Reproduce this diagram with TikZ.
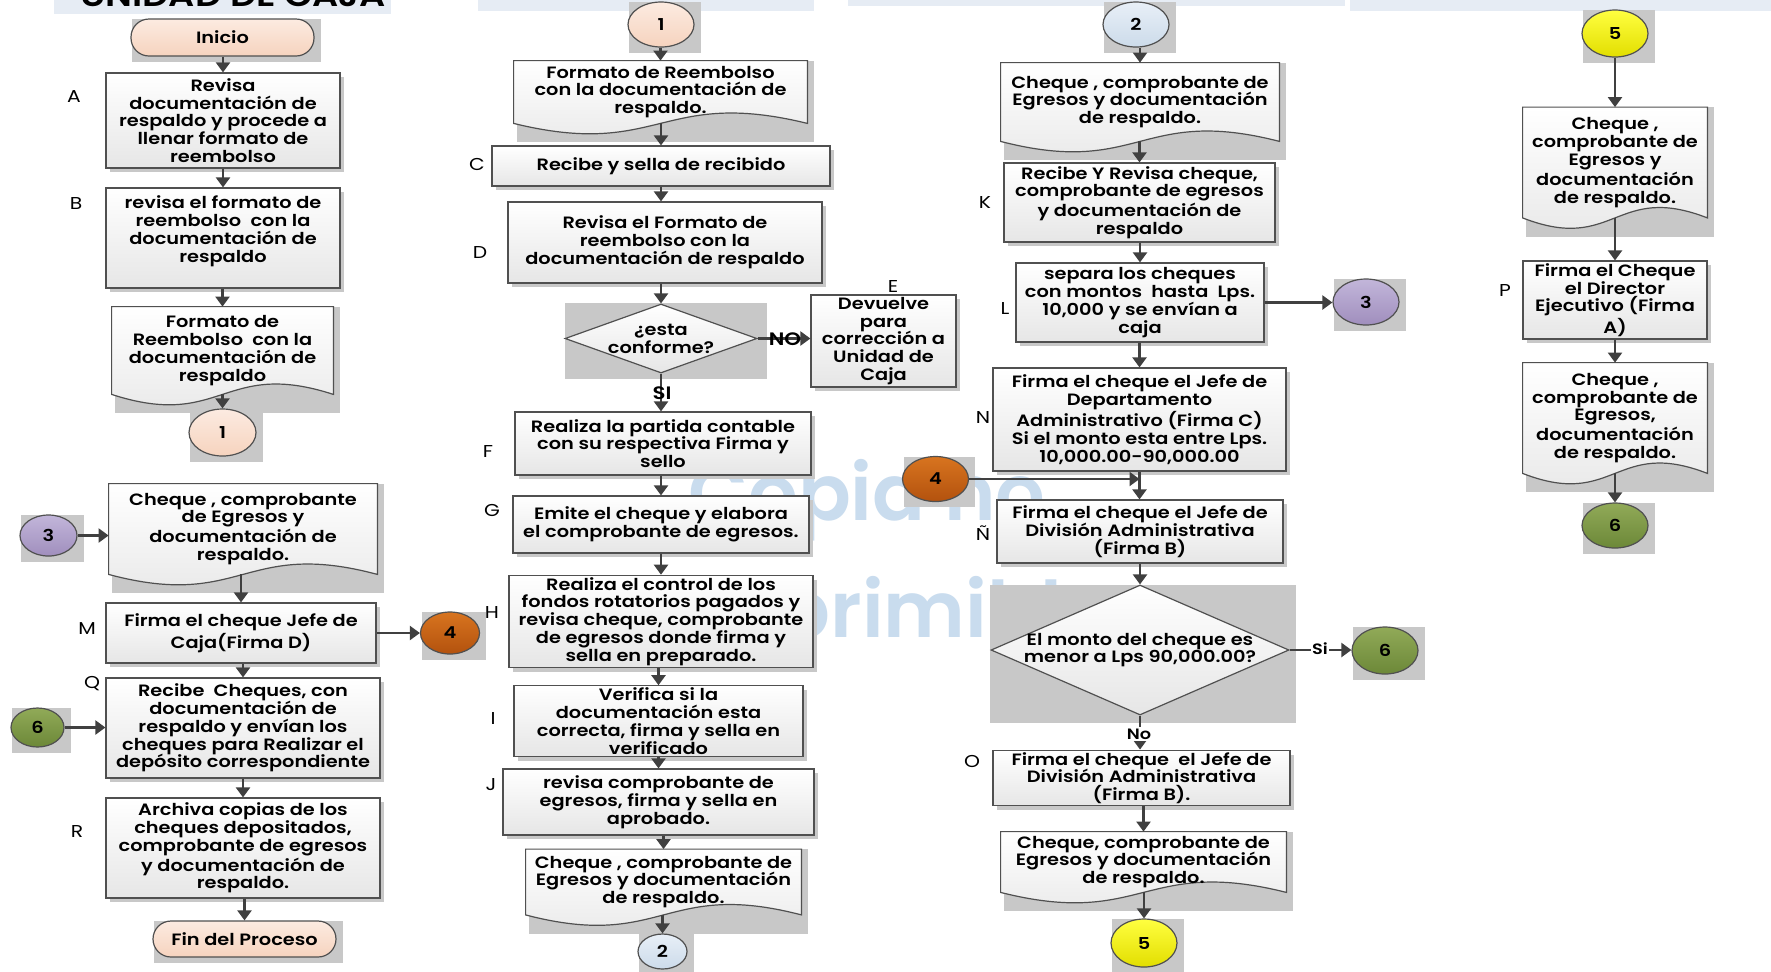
\documentclass[tikz,border=0pt]{standalone}
\usepackage{fontspec}
\setmainfont{Poppins}[FakeStretch=1.18, BoldFont={* SemiBold}]
\newfontfamily\wmfont{Poppins}[BoldFont={* SemiBold}]
\usetikzlibrary{shapes.geometric,shadows,arrows.meta,calc}
\definecolor{linec}{HTML}{505050}
\definecolor{arrc}{HTML}{404040}
\definecolor{boxbot}{HTML}{E6E6E6}
\definecolor{shadc}{HTML}{C8C8C8}
\definecolor{barc}{HTML}{E6ECF4}
\definecolor{wmc}{HTML}{C9DCEE}
\definecolor{peachT}{HTML}{FCEBE1}
\definecolor{peachB}{HTML}{F6D3BE}
\definecolor{blueT}{HTML}{E8EFF7}
\definecolor{blueB}{HTML}{CCDBEA}
\definecolor{purT}{HTML}{C2B6DA}
\definecolor{purB}{HTML}{A08EBD}
\definecolor{orT}{HTML}{D8741F}
\definecolor{orB}{HTML}{B3520E}
\definecolor{yeT}{HTML}{FFFF40}
\definecolor{yeB}{HTML}{E2DE00}
\definecolor{grT}{HTML}{91AA58}
\definecolor{grB}{HTML}{6C8838}
\pgfdeclarelayer{wmlayer}
\pgfdeclarelayer{shlayer}
\pgfsetlayers{wmlayer,shlayer,main}
\tikzset{
  base/.style={font=\fontsize{8.2}{8.9}\selectfont\bfseries, align=center, inner sep=1pt, text=black},
  sz/.style 2 args={minimum width=#1*0.5pt, minimum height=#2*0.5pt},
  procbox/.style={base, rectangle, draw=linec, line width=0.6pt, top color=white, bottom color=boxbot,
     drop shadow={shadow xshift=2.2pt, shadow yshift=-2.2pt, fill=shadc, opacity=1}},
  docnode/.style={base, rectangle, draw=none},
  docline/.style={draw=linec, line width=0.6pt, top color=white, bottom color=boxbot},
  circnode/.style={base, ellipse, draw=linec, line width=0.6pt, inner sep=0pt},
  termnode/.style={base, rectangle, rounded corners=9pt, draw=linec, line width=0.6pt, inner sep=0pt},
  dianode/.style={diamond, draw=linec, line width=0.6pt, inner sep=0pt, top color=white, bottom color=boxbot},
  peach/.style={top color=peachT, bottom color=peachB},
  bluec/.style={top color=blueT, bottom color=blueB},
  purc/.style={top color=purT, bottom color=purB},
  orc/.style={top color=orT, bottom color=orB},
  yec/.style={top color=yeT, bottom color=yeB},
  grc/.style={top color=grT, bottom color=grB},
  lbl/.style={font=\fontsize{8.6}{10}\selectfont, inner sep=0pt, text=black},
  yn/.style={font=\fontsize{9}{10}\selectfont\bfseries, inner sep=0.5pt, text=black},
  yns/.style={font=\fontsize{7.5}{9}\selectfont\bfseries, inner sep=0.8pt, text=black, fill=white},
  arr/.style={draw=arrc, line width=1.1pt, -{Triangle[width=7pt,length=5pt]}},
}
\newcommand\shb[5]{\fill[shadc] ($(#1.west |- #1.north)+(#2,#3)$) rectangle ($(#1.east |- #1.south)+(#4,#5)$);}
\newcommand\docdraw[1]{\path[docline] (#1.north west) -- (#1.north east) -- (#1.south east)
   .. controls ($(#1.south)+(0pt,18pt)$) and ($(#1.south)+(0pt,-18pt)$) .. (#1.south west) -- cycle;}
\newcommand\docfull[1]{\begin{pgfonlayer}{shlayer}\shb{#1}{3}{0}{7}{19}\docdraw{#1}\end{pgfonlayer}}
\newcommand\circsh[1]{\begin{pgfonlayer}{shlayer}\shb{#1}{2}{1}{6}{5}\end{pgfonlayer}}
\begin{document}
\begin{tikzpicture}[x=0.5pt, y=-0.5pt]
\useasboundingbox (0,0) rectangle (1771,971);
\clip (0,0) rectangle (1771,971);
\begin{pgfonlayer}{wmlayer}
  \fill[white] (0,0) rectangle (1771,971);
  \fill[barc] (54,-10) rectangle (391,14);
  \fill[barc] (478,-10) rectangle (814,11);
  \fill[barc] (848,-10) rectangle (1345,6);
  \fill[barc] (1350,-10) rectangle (1771,11);
  \node[font=\fontsize{15.5}{17}\selectfont\bfseries, anchor=base, inner sep=0pt] (title) at (233,6) {UNIDAD DE CAJA};
  \node[font=\wmfont\fontsize{39}{46}\selectfont\bfseries, text=wmc, anchor=base west, inner sep=0pt] (wm1) at (688,520) {Copia no};
  \node[font=\wmfont\fontsize{39}{46}\selectfont\bfseries, text=wmc, anchor=base west, inner sep=0pt] (wm2) at (674,637) {imprimible};
\end{pgfonlayer}

% ---------- column 1 ----------
\node[termnode, peach, sz={183}{37}] (ini) at (222.5,37.5) {Inicio};
\node[procbox, sz={234}{95}] (A) at (223,120.5) {Revisa\\documentación de\\respaldo y procede a\\llenar formato de\\reembolso};
\node[procbox, sz={234}{100}] (B) at (223,238) {revisa el formato de\\reembolso \ con la\\documentación de\\respaldo\\\mbox{}};
\node[docnode, sz={221}{87}] (d1) at (222.5,350.5) {Formato de\\Reembolso \ con la\\documentación de\\respaldo};
\node[circnode, peach, sz={67}{47}] (c1a) at (222.5,432.5) {1};
\node[docnode, sz={268}{90}] (d8) at (243,529) {Cheque , comprobante\\de Egresos y\\documentación de\\respaldo.};
\node[circnode, purc, sz={57}{41}] (c3a) at (48.5,535.5) {3};
\node[procbox, sz={270}{60}] (M) at (241,633) {Firma el cheque Jefe de\\Caja(Firma D)};
\node[circnode, orc, sz={59}{42}] (c4a) at (450,633) {4};
\node[procbox, sz={274}{100}] (Q) at (243,728) {Recibe \ Cheques, con\\documentación de\\respaldo y envían los\\cheques para Realizar el\\depósito correspondiente};
\node[circnode, grc, sz={53}{39}] (c6a) at (37.5,727.5) {6};
\node[procbox, sz={274}{100}] (R) at (243,848) {Archiva copias de los\\cheques depositados,\\comprobante de egresos\\y documentación de\\respaldo.};
\node[termnode, peach, sz={183}{36}] (fin) at (244.5,939) {Fin del Proceso};

% ---------- column 2 ----------
\node[circnode, peach, sz={66}{45}] (c1b) at (661,24.5) {1};
\node[docnode, sz={293}{62}] (d2) at (660.5,92) {Formato de Reembolso\\con la documentación de\\respaldo.};
\node[procbox, sz={338}{40}] (C) at (661,166) {Recibe y sella de recibido};
\node[procbox, sz={314}{81}] (D) at (665,242.5) {Revisa el Formato de\\reembolso con la\\documentación de respaldo};
\node[dianode, sz={192}{69}, label={[base]center:{¿esta\\conforme?}}] (q1) at (661,338.5) {};
\node[procbox, sz={145}{92}] (E) at (883.5,341) {Devuelve\\para\\corrección a\\Unidad de\\Caja};
\node[procbox, sz={296}{63}] (F) at (663,443.5) {Realiza la partida contable\\con su respectiva Firma y\\sello};
\node[procbox, sz={296}{57}] (G) at (661,524.5) {Emite el cheque y elabora\\el comprobante de egresos.};
\node[procbox, sz={304}{91}] (H) at (661,621.5) {Realiza el control de los\\fondos rotatorios pagados y\\revisa cheque, comprobante\\de egresos donde firma y\\sella en preparado.};
\node[procbox, sz={289}{70}] (I) at (658.5,721) {Verifica si la\\documentación esta\\correcta, firma y sella en\\verificado};
\node[procbox, sz={311}{66}] (J) at (658.5,802) {revisa comprobante de\\egresos, firma y sella en\\aprobado.};
\node[docnode, sz={275}{65}] (d3) at (663.5,882) {Cheque , comprobante de\\Egresos y documentación\\de respaldo.};
\node[circnode, bluec, sz={49}{35}] (c2a) at (662.5,951.5) {2};

% ---------- column 3 ----------
\node[circnode, bluec, sz={66}{45}] (c2b) at (1136,24.5) {2};
\node[docnode, sz={278}{78}] (d4) at (1140,102) {Cheque , comprobante de\\Egresos y documentación\\de respaldo.};
\node[procbox, sz={271}{79}] (K) at (1139.5,202.5) {Recibe Y Revisa cheque,\\comprobante de egresos\\y documentación de\\respaldo};
\node[procbox, sz={248}{79}] (L) at (1140,302.5) {separa los cheques\\con montos \ hasta \ Lps.\\10,000 y se envían a\\caja};
\node[circnode, purc, sz={66}{46}] (c3b) at (1366,302) {3};
\node[procbox, sz={293}{103}] (N) at (1139.5,419.5) {Firma el cheque el Jefe de\\Departamento\\Administrativo (Firma C)\\Si el monto esta entre Lps.\\10,000.00-90,000.00};
\node[circnode, orc, sz={66}{45}] (c4b) at (935.5,479) {4};
\node[procbox, sz={286}{63}] (Nn) at (1140,531.5) {Firma el cheque el Jefe de\\División Administrativa\\(Firma B)};
\node[dianode, sz={298}{130}, label={[base]center:{El monto del cheque es\\menor a Lps 90,000.00?}}] (q2) at (1140,650) {};
\node[circnode, grc, sz={66}{47}] (c6b) at (1385,650.5) {6};
\node[procbox, sz={297}{50}] (O) at (1141.5,778) {Firma el cheque \ el Jefe de\\División Administrativa\\(Firma B).};
\node[docnode, sz={285}{60}] (d5) at (1143.5,862) {Cheque, comprobante de\\Egresos y documentación\\de respaldo.};
\node[circnode, yec, sz={66}{48}] (c5a) at (1144,943) {5};

% ---------- column 4 ----------
\node[circnode, yec, sz={66}{47}] (c5b) at (1615,33.5) {5};
\node[docnode, sz={184}{110}] (d6) at (1615,162.5) {Cheque ,\\comprobante de\\Egresos y\\documentación\\de respaldo.};
\node[procbox, sz={184}{78}] (P) at (1615,300) {Firma el Cheque\\el Director\\Ejecutivo (Firma\\A)};
\node[docnode, sz={184}{110}] (d7) at (1615,418) {Cheque ,\\comprobante de\\Egresos,\\documentación\\de respaldo.};
\node[circnode, grc, sz={66}{45}] (c6c) at (1615,525.5) {6};

% ---------- step letters ----------
\node[lbl] (lA) at (74,97) {A};
\node[lbl] (lB) at (76,203) {B};
\node[lbl] (lM) at (87,629) {M};
\node[lbl] (lQ) at (92,684) {Q};
\node[lbl] (lR) at (77,831) {R};
\node[lbl] (lC) at (477,164) {C};
\node[lbl] (lD) at (480,252) {D};
\node[lbl] (lE) at (893,286) {E};
\node[lbl] (lF) at (488,451) {F};
\node[lbl] (lG) at (492,510) {G};
\node[lbl] (lH) at (492,612) {H};
\node[lbl] (lI) at (493,718) {I};
\node[lbl] (lJ) at (491,785) {J};
\node[lbl] (lK) at (985,202) {K};
\node[lbl] (lL) at (1005,308) {L};
\node[lbl] (lN) at (983,417) {N};
\node[lbl] (lNn) at (983,533) {Ñ};
\node[lbl] (lO) at (972,761) {O};
\node[lbl] (lP) at (1505,290) {P};

% ---------- shadows and document outlines ----------
\docfull{d1}\docfull{d8}\docfull{d2}\docfull{d3}\docfull{d4}\docfull{d5}\docfull{d6}\docfull{d7}
\circsh{c1a}\circsh{c3a}\circsh{c4a}\circsh{c6a}\circsh{c1b}\circsh{c2a}\circsh{c2b}\circsh{c3b}
\circsh{c4b}\circsh{c6b}\circsh{c5a}\circsh{c5b}\circsh{c6c}\circsh{ini}\circsh{fin}
\begin{pgfonlayer}{shlayer}
  \shb{q1}{1}{0}{9}{5}
  \shb{q2}{0}{1}{6}{7}
\end{pgfonlayer}

% ---------- connectors ----------
\draw[arr] (ini.south -| A.north) -- (A.north);
\draw[arr] (A.south) -- (B.north);
\draw[arr] (B.south -| d1.north) -- (d1.north);
\draw[arr] (d1.south) -- (c1a.north);
\draw[arr] (c3a.east) -- (c3a.east -| d8.west);
\draw[arr] (d8.south -| M.north) -- (M.north);
\draw[arr] (M.east) -- (M.east -| c4a.west);
\draw[arr] (M.south -| Q.north) -- (Q.north);
\draw[arr] (c6a.east) -- (c6a.east -| Q.west);
\draw[arr] (Q.south) -- (R.north);
\draw[arr] (R.south -| fin.north) -- (fin.north);

\draw[arr] (c1b.south -| d2.north) -- (d2.north);
\draw[arr] (d2.south -| C.north) -- (C.north);
\draw[arr] (C.south) -- (C.south |- D.north);
\draw[arr] (D.south -| q1.north) -- (q1.north);
\draw[arr] (q1.east) -- (q1.east -| E.west);
\draw[arr] (q1.south) -- (q1.south |- F.north);
\draw[arr] (F.south -| G.north) -- (G.north);
\draw[arr] (G.south) -- (H.north);
\draw[arr] (H.south -| I.north) -- (I.north);
\draw[arr] (I.south) -- (J.north);
\draw[arr] (J.south -| d3.north) -- (d3.north);
\draw[arr] (d3.south -| c2a.north) -- (c2a.north);

\draw[arr] (c2b.south -| d4.north) -- (d4.north);
\draw[arr] (d4.south -| K.north) -- (K.north);
\draw[arr] (K.south -| L.north) -- (L.north);
\draw[arr] (L.east) -- (L.east -| c3b.west);
\draw[arr] (L.south -| N.north) -- (N.north);
\coordinate (j4) at (N.south |- c4b.east);
\draw[arr] (N.south) -- (N.south |- Nn.north);
\draw[arr] (c4b.east) -- (j4);
\draw[arr] (Nn.south -| q2.north) -- (q2.north);
\draw[arr] (q2.east) -- (q2.east -| c6b.west);
\draw[arr] (q2.south) -- (q2.south |- O.north);
\draw[arr] (O.south -| d5.north) -- (d5.north);
\draw[arr] (d5.south -| c5a.north) -- (c5a.north);

\draw[arr] (c5b.south) -- (d6.north);
\draw[arr] (d6.south) -- (P.north);
\draw[arr] (P.south) -- (d7.north);
\draw[arr] (d7.south) -- (c6c.north);

% ---------- decision labels ----------
\node[yn] (no1) at (785,339) {NO};
\node[yn] (si1) at (662,393) {SI};
\node[yns] (si2) at (1320,649) {Si};
\node[yns] (no2) at (1139,734) {No};
\end{tikzpicture}
\end{document}
